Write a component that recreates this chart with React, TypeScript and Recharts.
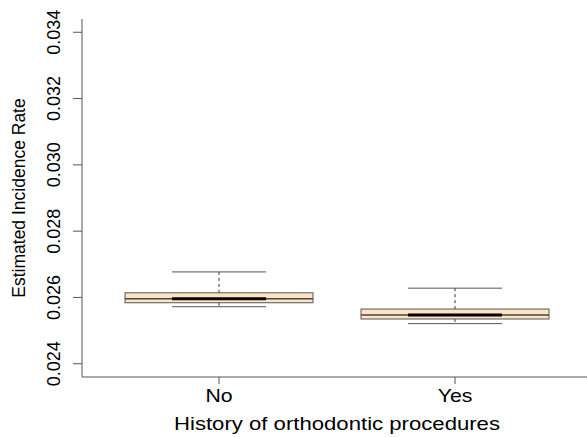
import { ComposedChart, Bar, XAxis, YAxis, Label } from 'recharts';

const groups = ['No', 'Yes'];
const lowerWhisker = [0.02572, 0.02521];
const lowerQuartile = [0.02584, 0.02535];
const medians = [0.02596, 0.02547];
const upperQuartile = [0.02614, 0.02565];
const upperWhisker = [0.02677, 0.02628];
const yTicks = [0.024, 0.026, 0.028, 0.03, 0.032, 0.034];

const chartData = groups.map((g, i) => ({
  group: g,
  range: [lowerWhisker[i], upperWhisker[i]],
  lo: lowerWhisker[i],
  q1: lowerQuartile[i],
  median: medians[i],
  q3: upperQuartile[i],
  hi: upperWhisker[i],
}));

const FONT = 'Liberation Sans, Arial, Helvetica, sans-serif';
const FRAME = '#555';

function BoxShape(props: any) {
  const { x, y, width, height, payload } = props;
  const top = Math.min(y, y + height);
  const h = Math.abs(height);
  const { lo, hi, q1, median, q3 } = payload;
  const toY = (v: number) => top + ((hi - v) / (hi - lo)) * h;
  const cx = x + width / 2;
  const half = width / 4;
  return (
    <g>
      <line x1={cx} x2={cx} y1={toY(hi)} y2={toY(q3)} stroke="#333" strokeDasharray="3 3" />
      <line x1={cx} x2={cx} y1={toY(q1)} y2={toY(lo)} stroke="#333" strokeDasharray="3 3" />
      <line x1={cx - half} x2={cx + half} y1={toY(hi)} y2={toY(hi)} stroke={FRAME} />
      <line x1={cx - half} x2={cx + half} y1={toY(lo)} y2={toY(lo)} stroke={FRAME} />
      <rect x={x} y={toY(q3)} width={width} height={toY(q1) - toY(q3)} fill="#FFE4C4" stroke={FRAME} />
      <line x1={x} x2={x + width} y1={toY(median)} y2={toY(median)} stroke="#444" strokeWidth={1.5} />
      <line x1={cx - half} x2={cx + half} y1={toY(median)} y2={toY(median)} stroke="#000" strokeWidth={3} />
    </g>
  );
}

function YTick(props: any) {
  const { x, y, payload } = props;
  return (
    <text
      transform={`translate(${x - 11},${y}) rotate(-90)`}
      textAnchor="middle"
      fontSize={18}
      fontFamily={FONT}
      fill="#000"
    >
      {payload.value.toFixed(3)}
    </text>
  );
}

function XTick(props: any) {
  const { x, y, payload } = props;
  return (
    <text
      transform={`translate(${x},${y + 16}) scale(1.18,1)`}
      textAnchor="middle"
      fontSize={18}
      fontFamily={FONT}
      fill="#000"
    >
      {payload.value}
    </text>
  );
}

export default function App() {
  return (
    <div style={{ position: 'absolute', left: 0, top: 0, width: 587, height: 437, overflow: 'hidden', background: '#fff' }}>
      <ComposedChart width={600} height={437} data={chartData} margin={{ top: 19, right: 8, bottom: 0, left: 0 }}>
        <XAxis
          dataKey="group"
          padding={{ left: 19, right: 19 }}
          height={60}
          tickSize={7}
          tickLine={{ stroke: FRAME }}
          axisLine={{ stroke: FRAME }}
          tick={<XTick />}
        >
          <Label
            content={({ viewBox }: any) => (
              <text
                x={viewBox.x + viewBox.width / 2}
                y={430}
                textAnchor="middle"
                fontSize={18}
                fontFamily={FONT}
                fill="#000"
                textLength={326}
                lengthAdjust="spacingAndGlyphs"
              >
                History of orthodontic procedures
              </text>
            )}
          />
        </XAxis>
        <XAxis xAxisId="top" dataKey="group" orientation="top" height={0} tick={false} tickLine={false} axisLine={{ stroke: FRAME }} />
        <YAxis
          type="number"
          domain={[0.0236, 0.0344]}
          ticks={yTicks}
          width={82}
          tickSize={9}
          tickLine={{ stroke: FRAME }}
          axisLine={{ stroke: FRAME }}
          tick={<YTick />}
          allowDataOverflow
        >
          <Label
            content={({ viewBox }: any) => (
              <text
                transform={`translate(25,${viewBox.y + viewBox.height / 2}) rotate(-90)`}
                textAnchor="middle"
                fontSize={17.5}
                fontFamily={FONT}
                fill="#000"
              >
                Estimated Incidence Rate
              </text>
            )}
          />
        </YAxis>
        <Bar dataKey="range" barSize={188} shape={<BoxShape />} isAnimationActive={false} />
      </ComposedChart>
    </div>
  );
}
